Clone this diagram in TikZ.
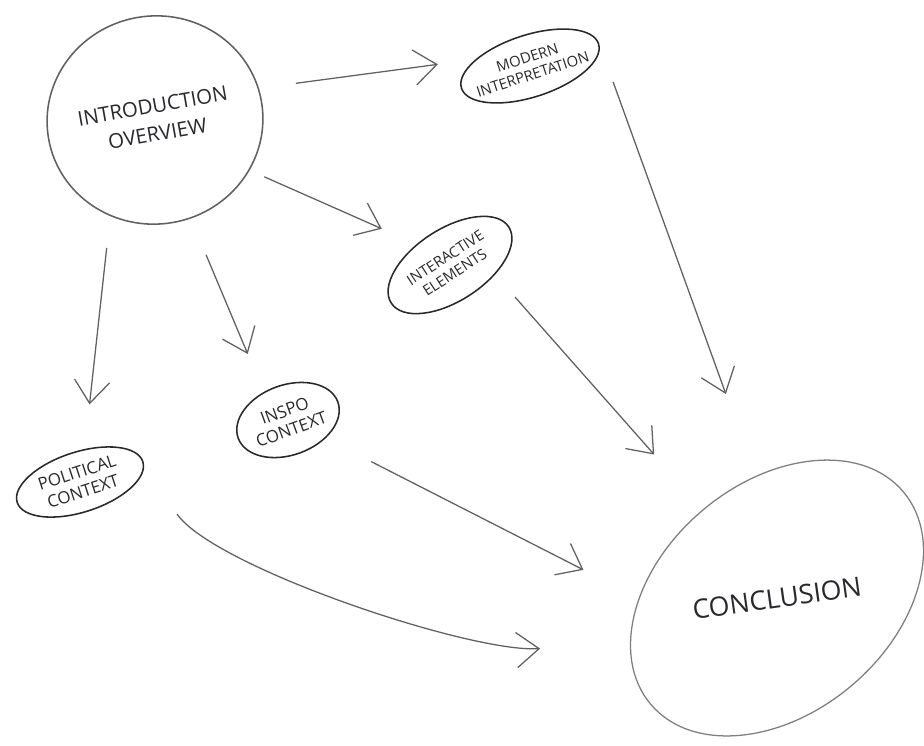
\documentclass[tikz,border=0pt]{standalone}
\usepackage{fontspec}
\setmainfont{Open Sans}
\usepackage{xcolor}
\usepackage{graphicx}
\usepackage{tikz}
\definecolor{inkgray}{RGB}{40, 40, 45}
\definecolor{pencilgray}{RGB}{95, 95, 100}
\definecolor{lightpencil}{RGB}{125, 125, 130}
\usetikzlibrary{shapes.geometric, arrows.meta, positioning}

\begin{document}
\begin{tikzpicture}[
    x=0.025cm, y=-0.025cm,
    bubble/.style={ellipse, draw=inkgray, line width=1.1pt, inner sep=0pt,
                   align=center, text=inkgray},
    flow/.style={-{Straight Barb[length=16pt, width=25pt]}, line width=0.9pt, draw=pencilgray}
]
    \useasboundingbox (0,0) rectangle (924,745);

    % Introduction
    \node[bubble, draw=pencilgray, minimum width=5.4cm, minimum height=5.2cm, rotate=10,
          font=\fontsize{14.5}{20}\selectfont] (intro) at (155,120) {INTRODUCTION\\OVERVIEW};

    % Modern Interpretation
    \node[bubble, minimum width=3.6cm, minimum height=1.55cm, inner xsep=-7pt, rotate=18,
          font=\fontsize{10.5}{12.5}\selectfont] (modern) at (530,66) {MODERN\\INTERPRETATION};

    % Interactive Elements
    \node[bubble, minimum width=3.5cm, minimum height=1.8cm, rotate=33,
          font=\fontsize{10.5}{12.5}\selectfont] (interactive) at (450,265) {INTERACTIVE\\ELEMENTS};

    % Political Context
    \node[bubble, minimum width=3.3cm, minimum height=1.5cm, rotate=18,
          font=\fontsize{12}{14}\selectfont] (political) at (80,482) {POLITICAL\\CONTEXT};

    % Inspo Context
    \node[bubble, minimum width=2.65cm, minimum height=1.75cm, rotate=20,
          font=\fontsize{12}{14}\selectfont] (inspo) at (288,420) {INSPO\\CONTEXT};

    % Conclusion
    \node[bubble, draw=lightpencil, line width=0.9pt, minimum width=8.25cm, minimum height=5.75cm,
          rotate=40, font=\fontsize{19}{21}\selectfont] (conclusion) at (777,598)
          {\rotatebox{-32}{CONCLUSION}};

    % Arrows from the introduction
    \draw[flow, shorten <=0.93cm, shorten >=0.95cm] (intro.7) -- (modern.155);
    \draw[flow, shorten <=0.4cm, shorten >=0.95cm] (intro.322) -- (interactive.115);
    \draw[flow, shorten <=0.8cm, shorten >=1.12cm] (intro.235) -- (political.64);
    \draw[flow, shorten <=0.98cm, shorten >=1.03cm] (intro.280) -- (inspo.111);

    % Arrows into the conclusion
    \draw[flow, shorten <=1.02cm, shorten >=2.18cm] (modern.0) -- (conclusion.60);
    \draw[flow, shorten <=0.75cm, shorten >=1.83cm] (interactive.-45) -- (conclusion.90);
    \draw[flow, shorten <=1.28cm, shorten >=1.55cm] (inspo.-46) -- (conclusion.140);
    \draw[flow, shorten <=1.43cm, shorten >=2.25cm] (political.-5)
        .. controls +(70,100) and +(-160,10) .. (conclusion.157);
\end{tikzpicture}
\end{document}
